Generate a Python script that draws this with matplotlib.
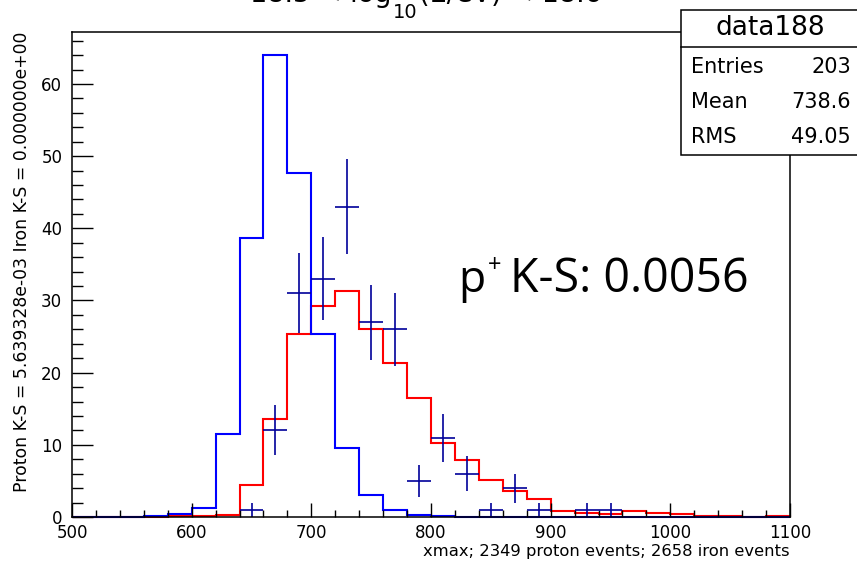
import numpy as np
import matplotlib.pyplot as plt
from matplotlib.patches import Rectangle
from matplotlib.lines import Line2D

plt.rcParams['font.family'] = ['DejaVu Sans']

# figure size in pixels, used to place things like ROOT does
W, H = 857, 562


def fx(x):
    return x / W


def fy(y):
    return 1 - y / H


# 20-wide bins, 500..1100
bin_edges = np.arange(500, 1101, 20)

# iron MC (blue), normalised to data
iron_counts = [0, 0, 0, 0.1, 0.4, 1.3, 11.5, 38.7, 64.0, 47.7,
               25.4, 9.6, 3.0, 1.0, 0.3, 0.1, 0, 0, 0, 0,
               0, 0, 0, 0, 0, 0, 0, 0, 0, 0]

# proton MC (red), normalised to data
proton_counts = [0, 0, 0, 0, 0.2, 0.2, 0.3, 4.4, 13.6, 25.4,
                 29.3, 31.3, 26.1, 21.4, 16.5, 10.2, 7.9, 5.1, 3.6, 2.5,
                 0.9, 0.6, 0.4, 0.9, 0.6, 0.4, 0.2, 0.2, 0.05, 0.2]

# data points
data_x = [650, 670, 690, 710, 730, 750, 770, 790, 810, 830, 850, 870, 890, 930, 950]
data_n = [1, 12, 31, 33, 43, 27, 26, 5, 11, 6, 1, 4, 1, 1, 1]

stat_rows = [("Entries", "203"), ("Mean", "738.6"), ("RMS", "49.05")]

y_title = "Proton K-S = 5.639328e-03 Iron K-S = 0.000000e+00"
x_title = "xmax; 2349 proton events; 2658 iron events"


fig = plt.figure(figsize=(W / 100, H / 100), dpi=100)
ax = fig.add_axes([fx(72), fy(517), fx(790) - fx(72), fy(32) - fy(517)])

ax.stairs(proton_counts, bin_edges, color='#ff0000', lw=1.5, clip_on=False)
ax.stairs(iron_counts, bin_edges, color='#0000ff', lw=1.5, clip_on=False)

err = np.sqrt(data_n)
ax.errorbar(data_x, data_n, xerr=10, yerr=err, fmt='none',
            ecolor='#000099', elinewidth=1.2, capsize=0)

ax.set_xlim(500, 1100)
ax.set_ylim(0, 67.2)
ax.set_xticks(np.arange(500, 1101, 100))
ax.set_xticks(np.arange(500, 1101, 20), minor=True)
ax.set_yticks(np.arange(0, 61, 10))
ax.set_yticks(np.arange(0, 67, 2), minor=True)

ax.tick_params(axis='both', which='both', direction='in', width=1.0,
               labelsize=12, top=False, right=False)
ax.tick_params(axis='x', which='major', length=10, pad=5)
ax.tick_params(axis='x', which='minor', length=5)
ax.tick_params(axis='y', which='major', length=15, pad=7)
ax.tick_params(axis='y', which='minor', length=8)

for s in ax.spines.values():
    s.set_linewidth(1.1)

# axis titles, ROOT style (aligned to the axis ends)
fig.text(fx(790), fy(556), x_title, ha='right', va='baseline', fontsize=11.8)
fig.text(fx(22), fy(32), y_title, rotation=90, ha='center', va='top', fontsize=12.4)

# title, mostly cut off by the top edge
fig.text(fx(392), fy(2), "18.5 < log", ha='right', va='baseline', fontsize=19.5)
fig.text(fx(393), fy(18), "10", ha='left', va='baseline', fontsize=14)
fig.text(fx(419), fy(2), "(E/eV) < 18.6", ha='left', va='baseline', fontsize=19.5)

# stats box
box = Rectangle((fx(681), fy(155)), fx(880) - fx(681), fy(10) - fy(155),
                transform=fig.transFigure, facecolor='white',
                edgecolor='black', lw=1.1, zorder=5)
fig.add_artist(box)
fig.add_artist(Line2D([fx(681), fx(880)], [fy(47), fy(47)],
                      transform=fig.transFigure, color='black', lw=1.1, zorder=6))
fig.text(fx(770), fy(28), "data188", ha='center', va='center', fontsize=19, zorder=7)
for i, (name, val) in enumerate(stat_rows):
    yy = 67 + i * 35
    fig.text(fx(691), fy(yy), name, ha='left', va='center', fontsize=15, zorder=7)
    fig.text(fx(851), fy(yy), val, ha='right', va='center', fontsize=15, zorder=7)

# K-S annotation
fig.text(fx(458), fy(292), "p", ha='left', va='baseline', fontsize=32, family='Open Sans')
fig.text(fx(488), fy(266), "+", ha='left', va='center', fontsize=17, family='Open Sans')
fig.text(fx(510), fy(292), "K-S: 0.0056", ha='left', va='baseline', fontsize=33.5,
         family='Open Sans')

fig.savefig("out.png", dpi=100)
